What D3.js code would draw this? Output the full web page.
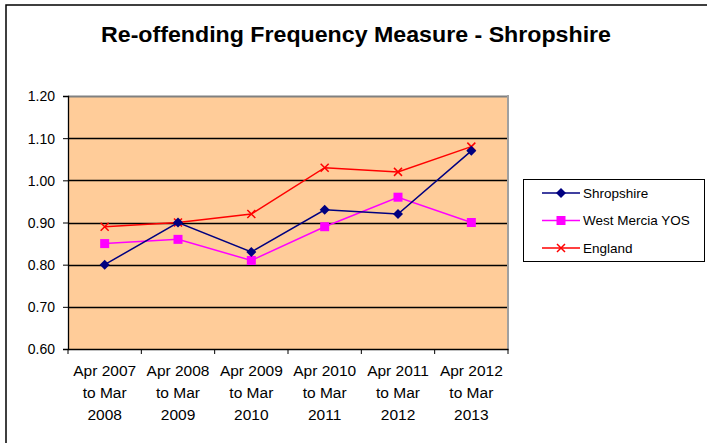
<!DOCTYPE html>
<html lang="en">
<head>
    <meta charset="UTF-8">
    <title>Re-offending Frequency Measure - Shropshire</title>
    <script src="https://d3js.org/d3.v7.min.js"></script>
    <style>
        body { margin: 0; background: #fff; }
        svg { display: block; font-family: "Liberation Sans", Arial, sans-serif; }
        .tick-label { font-size: 14px; fill: #000; }
        .cat-label { font-size: 15.5px; fill: #000; }
    </style>
</head>
<body>
    <div id="chart"></div>
    <script>
        const periods = [
            ["Apr 2007", "to Mar", "2008"],
            ["Apr 2008", "to Mar", "2009"],
            ["Apr 2009", "to Mar", "2010"],
            ["Apr 2010", "to Mar", "2011"],
            ["Apr 2011", "to Mar", "2012"],
            ["Apr 2012", "to Mar", "2013"]
        ];
        const seriesNames = ["Shropshire", "West Mercia YOS", "England"];
        const shropshire = [0.80, 0.90, 0.83, 0.93, 0.92, 1.07];
        const westMercia = [0.85, 0.86, 0.81, 0.89, 0.96, 0.90];
        const england = [0.89, 0.90, 0.92, 1.03, 1.02, 1.08];
        const yTicks = [0.60, 0.70, 0.80, 0.90, 1.00, 1.10, 1.20];

        const width = 707, height = 443;
        const plot = { left: 68, right: 508, top: 96, bottom: 349 };

        const svg = d3.select("#chart").append("svg")
            .attr("width", width)
            .attr("height", height);

        // outer chart frame (only top/left edges visible in the crop)
        svg.append("rect")
            .attr("x", 6).attr("y", 5)
            .attr("width", 720).attr("height", 460)
            .attr("fill", "#fff")
            .attr("stroke", "#000").attr("stroke-width", 1.5);

        svg.append("text")
            .attr("x", 356).attr("y", 42)
            .attr("text-anchor", "middle")
            .attr("font-size", "22px")
            .attr("font-weight", "bold")
            .attr("textLength", 510)
            .attr("lengthAdjust", "spacingAndGlyphs")
            .text("Re-offending Frequency Measure - Shropshire");

        const x = d3.scaleBand()
            .domain(periods.map((d, i) => i))
            .range([plot.left, plot.right]);

        const y = d3.scaleLinear()
            .domain([0.6, 1.2])
            .range([plot.bottom, plot.top]);

        // plot area
        svg.append("rect")
            .attr("x", plot.left).attr("y", plot.top)
            .attr("width", plot.right - plot.left)
            .attr("height", plot.bottom - plot.top)
            .attr("fill", "#FFCC99");

        // gridlines
        svg.append("g")
            .selectAll("line")
            .data(yTicks.slice(1))
            .join("line")
            .attr("x1", plot.left).attr("x2", plot.right)
            .attr("y1", d => Math.round(y(d)) + 0.5)
            .attr("y2", d => Math.round(y(d)) + 0.5)
            .attr("stroke", d => d === 1.2 ? "#808080" : "#000")
            .attr("stroke-width", d => d === 1.2 ? 2 : 1.3);

        // right gray edge
        svg.append("line")
            .attr("x1", plot.right).attr("x2", plot.right)
            .attr("y1", plot.top - 1).attr("y2", plot.bottom)
            .attr("stroke", "#a0a0a0").attr("stroke-width", 2);

        // y axis
        const yAxis = svg.append("g")
            .attr("transform", `translate(${plot.left},0)`)
            .call(d3.axisLeft(y).tickValues(yTicks).tickFormat(d3.format(".2f")).tickSize(5).tickPadding(8));
        yAxis.select(".domain").attr("stroke", "#000").attr("stroke-width", 1.3);
        yAxis.selectAll(".tick line").attr("stroke", "#000");
        yAxis.selectAll(".tick text")
            .attr("class", "tick-label")
            .attr("font-family", null).attr("font-size", null)
            .attr("dy", "0.35em");

        // x axis
        const xAxis = svg.append("g")
            .attr("transform", `translate(0,${plot.bottom})`)
            .call(d3.axisBottom(x).tickSize(0).tickFormat(""));
        xAxis.select(".domain").attr("stroke", "#000").attr("stroke-width", 1.3);
        xAxis.selectAll(".tick").remove();

        // category ticks at band boundaries
        const bounds = d3.range(periods.length + 1).map(i => plot.left + i * x.step());
        svg.append("g")
            .selectAll("line")
            .data(bounds)
            .join("line")
            .attr("x1", d => d).attr("x2", d => d)
            .attr("y1", plot.bottom).attr("y2", plot.bottom + 5)
            .attr("stroke", "#000");

        const catLabels = svg.append("g")
            .selectAll("text")
            .data(periods)
            .join("text")
            .attr("class", "cat-label")
            .attr("text-anchor", "middle")
            .attr("transform", (d, i) => `translate(${x(i) + x.bandwidth() / 2},${plot.bottom + 27})`);
        catLabels.selectAll("tspan")
            .data(d => d)
            .join("tspan")
            .attr("x", 0)
            .attr("y", (d, i) => i * 22)
            .text(d => d);

        // series
        const cx = i => x(i) + x.bandwidth() / 2;
        const line = d3.line().x((d, i) => cx(i)).y(d => y(d));

        const series = [
            { name: seriesNames[0], values: shropshire, color: "#000080", symbol: "diamond" },
            { name: seriesNames[1], values: westMercia, color: "#FF00FF", symbol: "square" },
            { name: seriesNames[2], values: england, color: "#FF0000", symbol: "cross" }
        ];

        function drawMarker(g, s) {
            if (s.symbol === "diamond") {
                g.append("path").attr("d", "M0,-5L5,0L0,5L-5,0Z").attr("fill", s.color);
            } else if (s.symbol === "square") {
                g.append("rect").attr("x", -4.5).attr("y", -4.5).attr("width", 9).attr("height", 9).attr("fill", s.color);
            } else {
                g.append("path").attr("d", "M-4,-4L4,4M-4,4L4,-4").attr("stroke", s.color).attr("stroke-width", 1.5).attr("fill", "none");
            }
        }

        // draw England first so Shropshire sits on top
        [series[2], series[1], series[0]].forEach(s => {
            svg.append("path")
                .datum(s.values)
                .attr("d", line)
                .attr("fill", "none")
                .attr("stroke", s.color)
                .attr("stroke-width", 1.5);
            s.values.forEach((v, i) => {
                const g = svg.append("g").attr("transform", `translate(${cx(i)},${y(v)})`);
                drawMarker(g, s);
            });
        });

        // legend
        const legend = svg.append("g");
        legend.append("rect")
            .attr("x", 523.5).attr("y", 179.5)
            .attr("width", 181).attr("height", 82)
            .attr("fill", "#fff").attr("stroke", "#000");
        series.forEach((s, i) => {
            const ly = 193 + i * 27.5;
            const g = legend.append("g").attr("transform", `translate(0,${ly})`);
            g.append("line")
                .attr("x1", 542).attr("x2", 580)
                .attr("stroke", s.color).attr("stroke-width", 1.5);
            const m = g.append("g").attr("transform", "translate(561,0)");
            drawMarker(m, s);
            g.append("text")
                .attr("x", 583).attr("y", 0)
                .attr("dy", "0.35em")
                .attr("font-size", "13.5px")
                .text(s.name);
        });
    </script>
</body>
</html>
